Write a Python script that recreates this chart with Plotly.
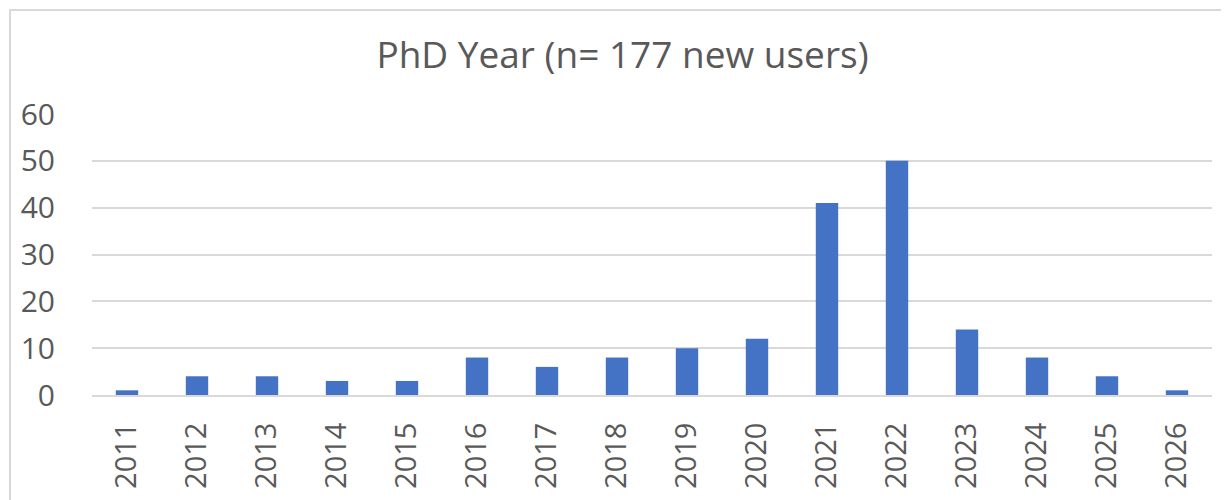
import plotly.graph_objects as go

years = ["2011", "2012", "2013", "2014", "2015", "2016", "2017", "2018",
         "2019", "2020", "2021", "2022", "2023", "2024", "2025", "2026"]
counts = [1, 4, 4, 3, 3, 8, 6, 8, 10, 12, 41, 50, 14, 8, 4, 1]
y_ticks = [0, 10, 20, 30, 40, 50, 60]

W, H = 1229, 500
OFF = 8  # default page body margin
L, T = 92 - OFF, 114 - OFF
pw, ph = 1120, 281
R, B = W - L - pw, H - T - ph

fig = go.Figure(go.Bar(x=years, y=counts, marker_color="#4472C4",
                       marker_line_width=0, width=0.32))

fig.update_layout(
    width=W, height=H,
    margin=dict(l=L, r=R, t=T, b=B, pad=0, autoexpand=False),
    paper_bgcolor="white", plot_bgcolor="white",
    font=dict(family="Open Sans, Liberation Sans, sans-serif", color="#595959"),
    title=dict(text="PhD Year (n= 177 new users)", x=0.5, xanchor="center",
               y=1 - (55 - OFF) / H, yanchor="middle",
               font=dict(size=37, color="#595959")),
    showlegend=False,
    bargap=0.68,
)
fig.update_xaxes(type="category", tickangle=-90, tickfont=dict(size=29),
                 showgrid=False, showline=True, linecolor="#d9d9d9", linewidth=2,
                 ticks="outside", ticklen=14, tickcolor="rgba(0,0,0,0)")
fig.update_yaxes(range=[0, 60], tickvals=y_ticks, tickfont=dict(size=30),
                 showgrid=True, gridcolor="#d9d9d9", gridwidth=2,
                 zeroline=False, showline=False, ticks="outside",
                 ticklen=30, tickcolor="rgba(0,0,0,0)")

# chart-area border (page coords: left x=10, top y=10; right/bottom off-page)
fig.add_shape(type="rect", xref="paper", yref="paper",
              x0=(10 - 92) / pw, x1=(1240 - 92) / pw,
              y0=-(395 - 300 + 220) / ph * 0 - (520 - 395) / ph,
              y1=(ph + (114 - 10)) / ph,
              line=dict(color="#d9d9d9", width=2), fillcolor="rgba(0,0,0,0)",
              layer="below")

fig.write_html("out.html")
